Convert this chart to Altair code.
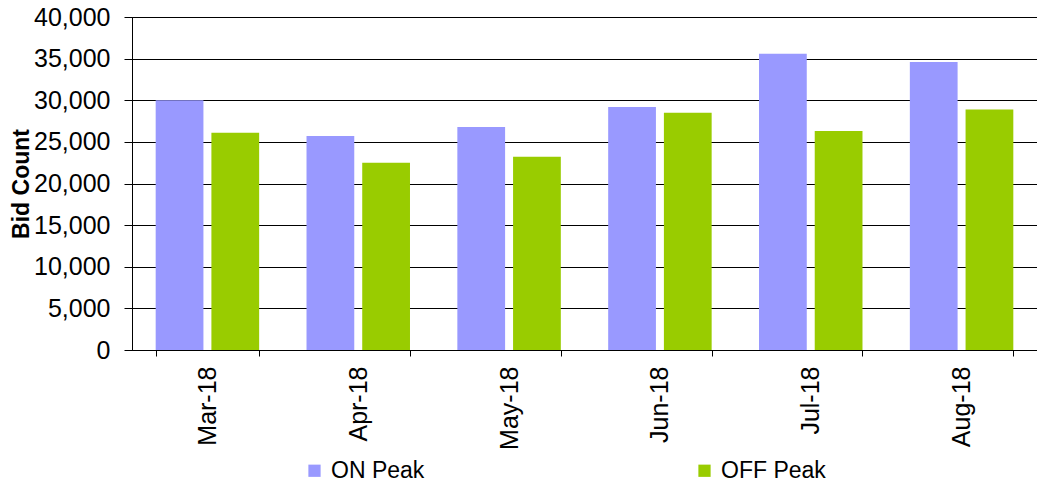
import altair as alt
import pandas as pd

months = ["Mar-18", "Apr-18", "May-18", "Jun-18", "Jul-18", "Aug-18"]
on_peak = [30000, 25700, 26800, 29200, 35600, 34600]
off_peak = [26100, 22500, 23200, 28500, 26300, 28900]
series = ["ON Peak", "OFF Peak"]
colors = ["#9999FF", "#99CC00"]
y_ticks = [0, 5000, 10000, 15000, 20000, 25000, 30000, 35000, 40000]

rows = []
for m, a, b in zip(months, on_peak, off_peak):
    rows.append({"month": m, "series": series[0], "value": a})
    rows.append({"month": m, "series": series[1], "value": b})
df = pd.DataFrame(rows)

FONT = "Liberation Sans"

chart = (
    alt.Chart(df)
    .mark_bar()
    .encode(
        x=alt.X(
            "month:N",
            sort=months,
            scale=alt.Scale(paddingInner=0.314, paddingOuter=0.157),
            axis=alt.Axis(
                title=None,
                labelAngle=-90,
                labelFontSize=25,
                labelFont=FONT,
                labelColor="black",
                tickBand="extent",
                tickSize=6,
                tickColor="black",
                domainColor="black",
                labelPadding=10,
                grid=False,
            ),
        ),
        xOffset=alt.XOffset(
            "series:N", sort=series, scale=alt.Scale(paddingInner=0.143, paddingOuter=0)
        ),
        y=alt.Y(
            "value:Q",
            scale=alt.Scale(domain=[0, 40000]),
            axis=alt.Axis(
                title="Bid Count",
                titleFontSize=23,
                titleFont=FONT,
                titleFontWeight="bold",
                titleColor="black",
                titlePadding=0,
                values=y_ticks,
                format=",.0f",
                labelFontSize=25,
                labelFont=FONT,
                labelColor="black",
                labelPadding=14,
                tickSize=8,
                tickColor="black",
                domainColor="black",
                gridColor="black",
                gridWidth=1,
            ),
        ),
        color=alt.Color(
            "series:N",
            sort=series,
            scale=alt.Scale(domain=series, range=colors),
            legend=alt.Legend(
                title=None,
                orient="none",
                legendX=171,
                legendY=442,
                direction="horizontal",
                columnPadding=268,
                symbolType="square",
                symbolSize=150,
                symbolStrokeWidth=0,
                symbolOpacity=1,
                labelFontSize=23,
                labelFont=FONT,
                labelColor="black",
                labelOffset=5,
            ),
        ),
    )
    .properties(
        width=905,
        height=333,
        autosize="none",
        padding={"left": 124, "top": 9, "right": 0, "bottom": 133},
    )
    .configure_view(stroke="black", strokeWidth=1)
)

chart.save("out.html", embed_options={"renderer": "svg", "actions": False})
